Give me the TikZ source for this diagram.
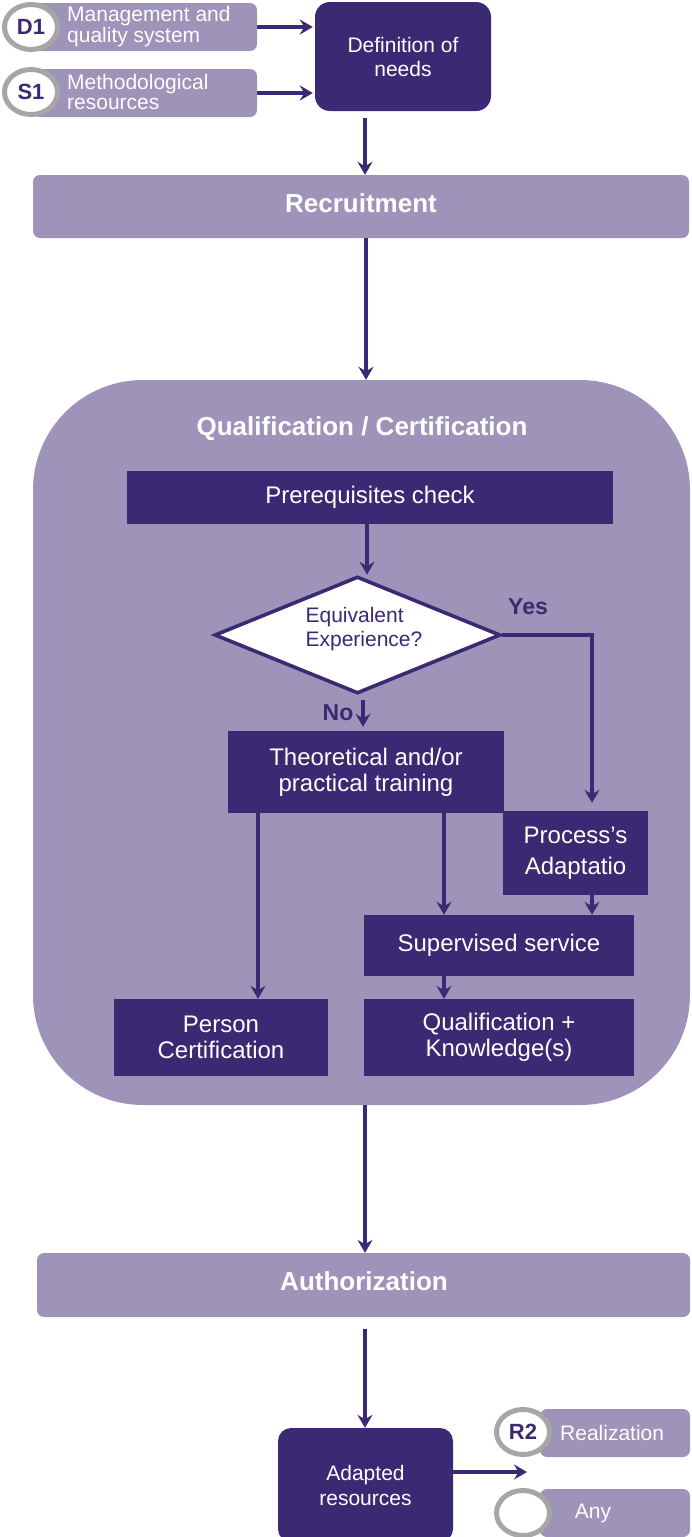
\documentclass[tikz,border=0pt]{standalone}
\usepackage{fontspec}
\setmainfont{Liberation Sans}
\usetikzlibrary{shapes.geometric,arrows.meta}
\definecolor{lightp}{RGB}{158,148,185}
\definecolor{darkp}{RGB}{60,41,115}
\definecolor{ringg}{RGB}{166,166,166}
\begin{document}
\begin{tikzpicture}[x=1pt,y=-1pt,
 lightbox/.style={fill=lightp, draw=none, rounded corners=7pt, inner sep=0pt},
 darkbox/.style={fill=darkp, draw=none, text=white, inner sep=0pt, align=center, font=\fontsize{24}{26}\selectfont},
 ring/.style={ellipse, draw=ringg, line width=5pt, fill=white, minimum width=53pt, minimum height=45pt, inner sep=0pt, text=darkp, font=\bfseries\fontsize{22}{24}\selectfont},
 tagtext/.style={text=white, align=left, inner sep=0pt, font=\fontsize{21}{20.5}\selectfont},
 title/.style={text=white, font=\bfseries\fontsize{26}{28}\selectfont},
 lab/.style={text=darkp, font=\bfseries\fontsize{23}{25}\selectfont, inner sep=0pt},
 arr/.style={draw=darkp, line width=3.6pt, -{Stealth[length=13pt,width=15pt,inset=4.5pt]}},
]
\useasboundingbox (0,0) rectangle (691,1537);

% input tags
\node[lightbox, minimum width=224pt, minimum height=48pt] (d1box) at (145,27) {};
\node[ring] (d1) at (31,27) {D1};
\node[tagtext, anchor=west] (d1t) at (67,26.5) {Management and\\quality system};
\node[lightbox, minimum width=224pt, minimum height=48pt] (s1box) at (145,93) {};
\node[ring] (s1) at (31,92) {S1};
\node[tagtext, anchor=west] (s1t) at (67,92) {Methodological\\resources};

\node[darkbox, rounded corners=15pt, minimum width=176pt, minimum height=109pt, font=\fontsize{21}{24}\selectfont] (needs) at (403,56.5) {Definition of\\needs};

\node[lightbox, minimum width=656pt, minimum height=63pt] (recruit) at (361,206.5) {};
\node[title, inner sep=0pt] (recruitt) at (361,203) {Recruitment};

% container
\node[fill=lightp, rounded corners=110pt, minimum width=657pt, minimum height=725pt, inner sep=0pt] (qc) at (361.5,742.5) {};
\node[title, inner sep=0pt] (qct) at (362,429) {Qualification / Certification};

\node[darkbox, minimum width=486pt, minimum height=53pt] (prereq) at (370,497.5) {Prerequisites check};

\node[diamond, draw=darkp, line width=3.6pt, fill=white, minimum width=286pt, minimum height=117pt, aspect=2.4, inner sep=0pt] (diam) at (357.5,635) {};
\node[text=darkp, align=left, inner sep=0pt, font=\fontsize{21}{24}\selectfont] (diamt) at (364,629) {Equivalent\\Experience?};

\node[lab] (yes) at (528,607) {Yes};
\node[lab] (no) at (338,713) {No};

\node[darkbox, minimum width=276pt, minimum height=82pt] (train) at (366,772) {Theoretical and/or\\practical training};
\node[darkbox, minimum width=145pt, minimum height=84pt, font=\fontsize{24}{31}\selectfont] (proc) at (575.5,853) {Process’s\\Adaptatio};
\node[darkbox, minimum width=270pt, minimum height=61pt] (sup) at (499,945.5) {Supervised service};
\node[darkbox, minimum width=214pt, minimum height=77pt] (person) at (221,1037.5) {Person\\Certification};
\node[darkbox, minimum width=270pt, minimum height=77pt] (qual) at (499,1037.5) {Qualification +\\Knowledge(s)};

\node[lightbox, minimum width=653pt, minimum height=64pt] (auth) at (363.5,1285) {};
\node[title, inner sep=0pt] (autht) at (364,1281) {Authorization};

\node[darkbox, rounded corners=13pt, minimum width=175pt, minimum height=114pt, font=\fontsize{21}{25}\selectfont] (adapt) at (365.5,1485) {Adapted\\resources};

% output tags
\node[lightbox, minimum width=150pt, minimum height=48pt] (r2box) at (615,1433) {};
\node[ring] (r2) at (523,1432) {R2};
\node[tagtext, anchor=west] (r2t) at (560,1433) {Realization};
\node[lightbox, minimum width=150pt, minimum height=48pt] (anybox) at (615,1513) {};
\node[ring] (anyc) at (523,1513) {};
\node[tagtext] (anyt) at (593,1513) {Any};

% x positions of connectors
\coordinate (xa) at (365,0);
\coordinate (xb) at (366,0);
\coordinate (xc) at (367,0);
\coordinate (xy) at (592,0);
\coordinate (xn) at (363,0);
\coordinate (xp) at (258,0);
\coordinate (xs) at (444,0);
\coordinate (outend) at (527,1472);

% connectors
\draw[arr, shorten >=2pt] (d1box.east) -- (d1box.east -| needs.west);
\draw[arr, shorten >=2pt] (s1box.east) -- (s1box.east -| needs.west);
\draw[arr, shorten <=7pt] (needs.south -| xa) -- (recruit.north -| xa);
\draw[arr] (recruit.south -| xb) -- (qc.north -| xb);
\draw[arr] (prereq.south -| xc) -- (diam.north -| xc);
\draw[arr, shorten >=8pt] (diam.east) -| (proc.north -| xy);
\draw[arr, shorten <=5pt, shorten >=4pt] (diam.south -| xn) -- (train.north -| xn);
\draw[arr] (train.south -| xp) -- (person.north -| xp);
\draw[arr] (train.south -| xs) -- (sup.north -| xs);
\draw[arr] (proc.south -| xy) -- (sup.north -| xy);
\draw[arr] (sup.south -| xs) -- (qual.north -| xs);
\draw[arr] (qc.south -| xa) -- (auth.north -| xa);
\draw[arr, shorten <=12pt] (auth.south -| xa) -- (adapt.north -| xa);
\draw[arr] (outend -| adapt.east) -- (outend);
\end{tikzpicture}
\end{document}
